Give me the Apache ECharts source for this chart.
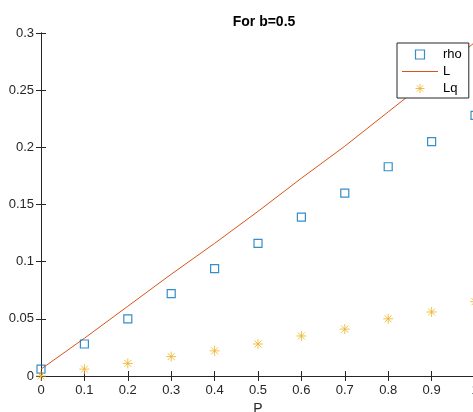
<!DOCTYPE html>
<html>
<head>
<meta charset="utf-8">
<script src="https://cdn.jsdelivr.net/npm/echarts@6/dist/echarts.min.js"></script>
<style>
  html, body { margin: 0; padding: 0; background: #fff; }
  #chart { width: 473px; height: 412px; }
</style>
</head>
<body>
<div id="chart"></div>
<script>
// values
var P = [0, 0.1, 0.2, 0.3, 0.4, 0.5, 0.6, 0.7, 0.8, 0.9, 1.0];
var rho = [0.006, 0.028, 0.050, 0.072, 0.094, 0.116, 0.139, 0.160, 0.183, 0.205, 0.228];
var L = [0.006, 0.033, 0.061, 0.089, 0.116, 0.144, 0.173, 0.201, 0.231, 0.261, 0.292];
var Lq = [0, 0.006, 0.011, 0.017, 0.022, 0.028, 0.035, 0.041, 0.050, 0.056, 0.065];
var yTicks = [0, 0.05, 0.1, 0.15, 0.2, 0.25, 0.3];

var axisCol = '#262626';
var font = 'Liberation Sans, Arial, sans-serif';
var star = 'path://M0,-5L0,5M-5,0L5,0M-3.5,-3.5L3.5,3.5M-3.5,3.5L3.5,-3.5';
var square = 'path://M0,0L10,0L10,10L0,10Z';
var dash = 'path://M0,0L36,0L36,1L0,1Z';

function pairs(ys) {
  return P.map(function (p, i) { return [p, ys[i]]; });
}

var chart = echarts.init(document.getElementById('chart'));
chart.setOption({
  animation: false,
  backgroundColor: '#fff',
  title: {
    text: 'For b=0.5',
    left: 259,
    top: 10,
    textAlign: 'center',
    textStyle: { fontFamily: font, fontSize: 14, fontWeight: 'bold', color: '#000' }
  },
  grid: { left: 41, right: -2, top: 33, bottom: 36, outerBoundsMode: 'none', containLabel: false },
  legend: {
    orient: 'vertical',
    left: 397,
    top: 43,
    padding: [5, 7, 3, 5],
    itemGap: 4,
    itemWidth: 36,
    itemHeight: 9,
    symbolKeepAspect: true,
    backgroundColor: '#fff',
    borderColor: '#262626',
    borderWidth: 1,
    borderRadius: 0,
    textStyle: { fontFamily: font, fontSize: 13, color: '#000' },
    data: [
      { name: 'rho', icon: square, itemStyle: { color: 'rgba(0,0,0,0)', borderColor: '#0072BD', borderWidth: 1.2 } },
      { name: 'L', icon: dash, itemStyle: { color: '#D95319', borderWidth: 0 } },
      { name: 'Lq', icon: star, itemStyle: { color: 'rgba(0,0,0,0)', borderColor: '#EDB120', borderWidth: 1 } }
    ]
  },
  xAxis: [{
    type: 'value', min: 0, max: 1, interval: 0.1,
    name: 'P', nameLocation: 'middle', nameGap: 26,
    nameTextStyle: { fontFamily: font, fontSize: 14, color: axisCol },
    axisLine: { lineStyle: { color: axisCol, width: 1 } },
    axisTick: { inside: true, length: 5, lineStyle: { color: axisCol } },
    axisLabel: { fontFamily: font, fontSize: 13, color: axisCol, margin: 8 },
    splitLine: { show: false }
  }, {
    type: 'value', min: 0, max: 1, interval: 0.1, position: 'top',
    axisLine: { lineStyle: { color: axisCol, width: 1 } },
    axisTick: { inside: true, length: 5, lineStyle: { color: axisCol } },
    axisLabel: { show: false },
    splitLine: { show: false }
  }],
  yAxis: [{
    type: 'value', min: 0, max: 0.3, interval: 0.05,
    axisLine: { show: true, lineStyle: { color: axisCol, width: 1 } },
    axisTick: { show: true, inside: true, length: 5, lineStyle: { color: axisCol } },
    axisLabel: {
      fontFamily: font, fontSize: 13, color: axisCol, margin: 7,
      formatter: function (v) {
        var t = yTicks.find(function (k) { return Math.abs(k - v) < 1e-9; });
        return String(t !== undefined ? t : v);
      }
    },
    splitLine: { show: false }
  }, {
    type: 'value', min: 0, max: 0.3, interval: 0.05, position: 'right',
    axisLine: { show: true, lineStyle: { color: axisCol, width: 1 } },
    axisTick: { show: true, inside: true, length: 5, lineStyle: { color: axisCol } },
    axisLabel: { show: false },
    splitLine: { show: false }
  }],
  series: [{
    name: 'rho',
    type: 'scatter',
    data: pairs(rho),
    symbol: 'rect',
    symbolSize: 8,
    itemStyle: { color: 'rgba(0,0,0,0)', borderColor: '#0072BD', borderWidth: 1.2 },
    z: 3
  }, {
    name: 'L',
    type: 'line',
    data: pairs(L),
    symbol: 'none',
    lineStyle: { color: '#D95319', width: 1 },
    itemStyle: { color: '#D95319' },
    z: 2
  }, {
    name: 'Lq',
    type: 'scatter',
    data: pairs(Lq),
    symbol: star,
    symbolSize: 10,
    itemStyle: { color: 'rgba(0,0,0,0)', borderColor: '#EDB120', borderWidth: 1 },
    z: 3
  }]
});
</script>
</body>
</html>
